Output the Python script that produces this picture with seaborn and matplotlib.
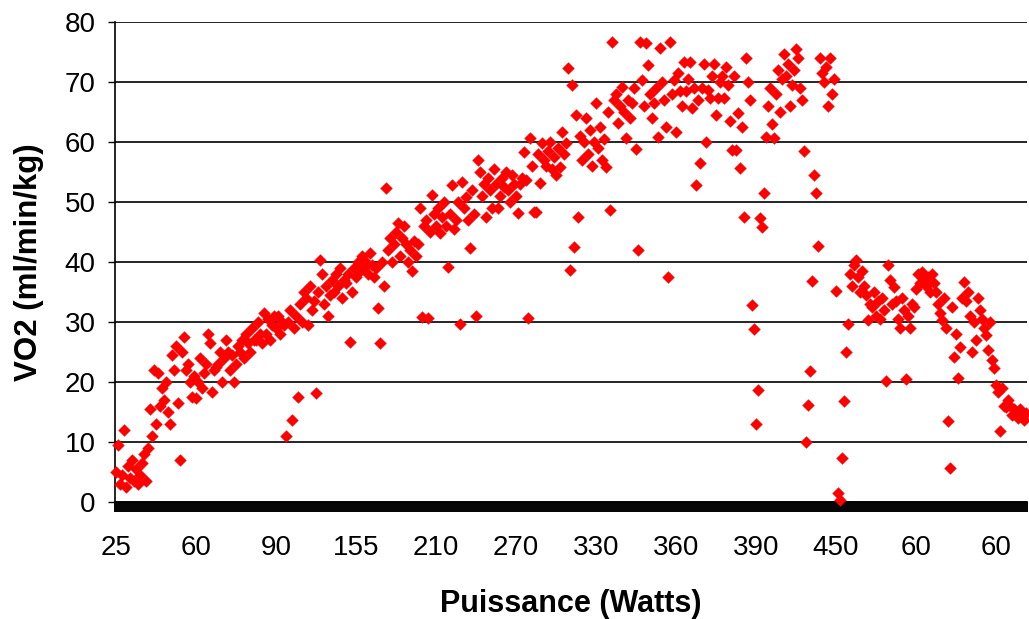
import numpy as np
import pandas as pd
import matplotlib
matplotlib.use("Agg")
import matplotlib.pyplot as plt
import seaborn as sns

# Set plot style (Excel-like: white background, black gridlines)
sns.set_style("white")
plt.rcParams["font.family"] = ["Liberation Sans", "DejaVu Sans"]
plt.rcParams["text.color"] = "black"
plt.rcParams["axes.labelcolor"] = "black"
plt.rcParams["xtick.color"] = "black"
plt.rcParams["ytick.color"] = "black"

# --------------------------
# Data
# --------------------------

# VO2 readings (ml/min/kg), one per recorded step, in test order
vo2 = [
    # warm-up and first stages
    5, 9.5, 3, 4.5, 12, 2.5, 6, 4, 7, 3.5,
    5.5, 3, 4.5, 6.5, 8, 3.5, 9, 15.5, 11, 22,
    13, 21.5, 16, 19, 17, 20, 15, 13, 24.5, 22,
    26, 16.5, 7, 25, 27.5, 22, 23, 20, 17.5, 21,
    17.3, 20, 24, 19, 21.5, 23, 28, 26.5, 18.3, 22,
    22.5, 23, 25, 20, 24, 27, 25, 22, 24.5, 20,
    23, 26, 25, 27, 24, 28, 26.5, 25, 29, 27,
    27, 30, 28, 26.5, 31.5,
    # 90 - 210 W
    28, 30.5, 27, 29.5, 31, 29, 31, 28, 30, 29.5,
    11, 30, 32, 13.7, 29, 31, 17.5, 33, 30, 35,
    34, 29.5, 36, 32, 33.5, 18.2, 35, 40.3, 38, 33,
    36, 31, 34.5, 37, 35, 38, 36, 39, 34, 37,
    36.5, 38, 26.7, 35, 39, 37.5, 40, 38.5, 41, 39,
    40, 38, 41.5, 39.5, 37.5, 39, 32.3, 26.5, 40, 36,
    52.3, 42, 44, 40, 43, 45, 46.5, 41, 44, 46,
    43, 40, 42, 38.5, 43.5, 41, 43, 49, 30.8, 46,
    # 210 - 330 W
    47, 30.7, 45, 51.2, 48, 46, 49, 44.8, 47.5, 50,
    46, 39.2, 48, 52.8, 45.5, 47, 50, 29.7, 53.3, 49,
    50.8, 47, 42.3, 52, 48, 31, 57, 55, 51, 53,
    47.5, 54, 52, 49, 55.5, 53, 49, 51, 54, 52.5,
    55, 52, 50, 54.5, 53, 51, 48.2, 53, 54, 58.3,
    53.7, 30.7, 60.7, 56, 48.3, 48.3, 58, 53.2, 59.8, 57,
    56, 58.5, 60, 55.5, 57.5, 54.5, 59, 55.8, 61.7, 58,
    59.8, 72.3, 38.7, 69.5, 42.5, 64.5, 47.5, 61, 57, 60,
    # 330 - 390 W
    64, 58, 62, 56, 60, 66.5, 59, 62.5, 57, 60.5,
    55.8, 65, 48.7, 76.7, 67, 68, 63.2, 66, 69.2, 65,
    60.7, 67, 64, 66.5, 69, 58.8, 42, 76.7, 70.3, 66,
    76.5, 72.8, 68, 64, 66.5, 69, 60.8, 75.7, 70, 67,
    62.5, 37.5, 76.7, 68, 70.3, 61.7, 71.5, 68.5, 66, 73.3,
    68.5, 70.5, 73.3, 65.7, 69, 52.8, 67, 56.5, 69, 73,
    60, 68.7, 67.3, 71, 73, 64.5, 67.3, 70, 71, 67.3,
    72.5, 69.5, 63.5, 58.7, 71,
    # 390 - 450 W and end of exercise
    58.7, 64.8, 55.7, 62.5, 47.5, 74, 70, 67, 32.8, 28.8,
    13, 18.7, 47.3, 45.8, 51.5, 60.8, 66, 69, 63, 60.7,
    68, 72, 65, 70.5, 74.7, 71, 73, 66, 69.5, 72,
    75.5, 74, 69, 67, 58.5, 10, 16.2, 21.8, 36.8, 54.5,
    51.5, 42.7, 74, 71.5, 70, 72.5, 66, 74, 68, 70.5,
    35.2, 1.5, 0.3, 7.3, 16.8, 25, 29.7, 38, 36, 39.5,
    40.3, 37.5, 35, 38.5, 36, 34.5, 30.3, 33, 32.5, 35,
    # recovery
    31, 33.5, 30.5, 34, 32, 20.2, 39.5, 37, 33, 35.8,
    33.5, 30.5, 29, 34, 32, 20.5, 31, 29, 33, 32.5,
    35.5, 38, 36.5, 38.3, 37, 36, 37.5, 35, 38, 36.5,
    35, 33, 31.5, 30.3, 34, 29, 13.5, 5.7, 32.5, 24.2,
    28, 20.7, 25.8, 34, 36.7, 33.5, 35, 31, 25, 30,
    27, 34, 32, 30.5, 29, 27.8, 25.3, 30, 23.7, 22.3,
    19.5, 18.3, 11.8, 19, 16, 15.8, 17, 16, 14.5, 15.5,
    15, 14, 15.5, 14.5, 13.7, 14.8,
]

# power (W) labels shown on the category axis, one every 40 steps
power_labels = ["25", "60", "90", "155", "210", "270",
                "330", "360", "390", "450", "60", "60"]
label_every = 40

df = pd.DataFrame({"step": np.arange(len(vo2)), "VO2": vo2})

# --------------------------
# Plot
# --------------------------

fig = plt.figure(figsize=(10.29, 6.19), dpi=100)
ax = fig.add_axes([0.1118, 0.189, 0.8862, 0.7754])

sns.scatterplot(data=df, x="step", y="VO2", marker="D", s=40,
                color="#ff0000", linewidth=0, ax=ax, clip_on=False, zorder=3)

# category axis: a tick between every step, labels every 40 steps
ax.set_xlim(-0.5, len(vo2) - 0.5)
ax.set_xticks(np.arange(len(power_labels)) * label_every)
ax.set_xticklabels(power_labels)
ax.set_xticks(np.arange(len(vo2) + 1) - 0.5, minor=True)
ax.tick_params(axis="x", which="major", bottom=True, length=0, pad=24, labelsize=20)
ax.tick_params(axis="x", which="minor", bottom=True, length=7, width=1.4,
               color="black", direction="out")

ax.set_ylim(0, 80)
ax.set_yticks(range(0, 81, 10))
ax.tick_params(axis="y", left=True, length=5, width=1, color="black",
               direction="out", pad=9, labelsize=20)

ax.yaxis.grid(True, color="black", linewidth=1.2)
ax.xaxis.grid(False)
ax.set_axisbelow(True)

for side in ["top", "right"]:
    ax.spines[side].set_visible(False)
for side in ["left", "bottom"]:
    ax.spines[side].set_color("black")
    ax.spines[side].set_linewidth(1.2)

ax.set_xlabel("Puissance (Watts)", fontsize=22, fontweight="bold", labelpad=20)
ax.set_ylabel("VO2 (ml/min/kg)", fontsize=22.5, fontweight="bold", labelpad=15)

fig.savefig("out.png", dpi=100)
